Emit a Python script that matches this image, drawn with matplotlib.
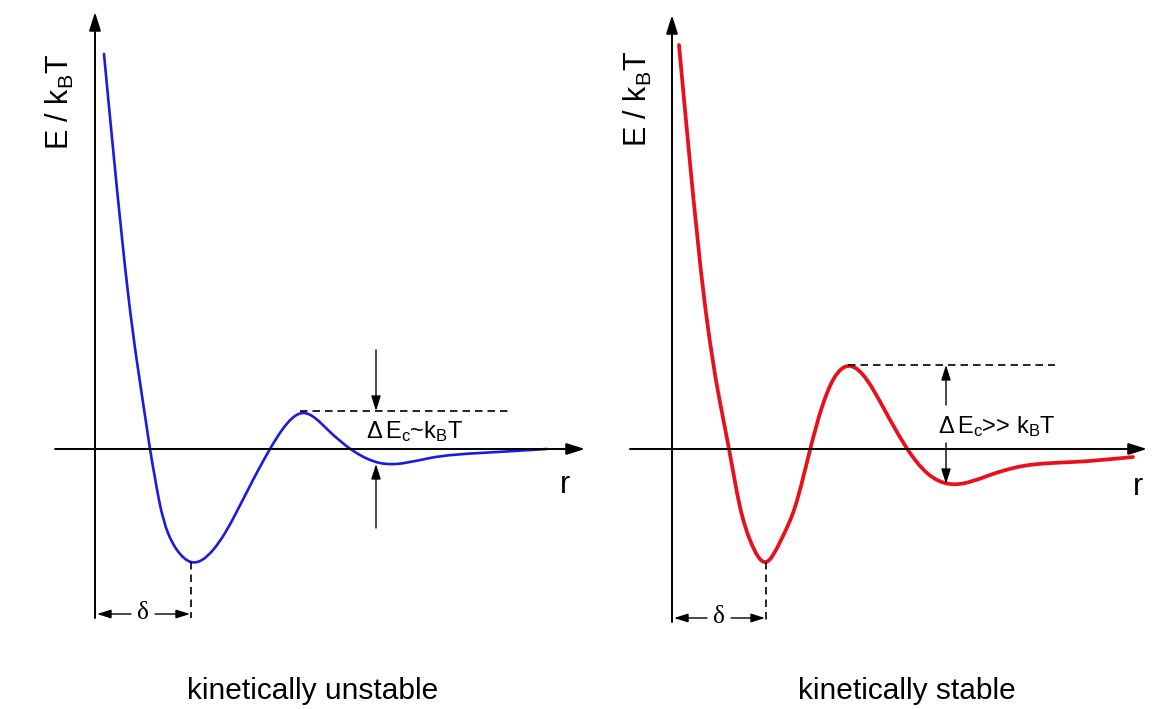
import numpy as np
import matplotlib
matplotlib.use("Agg")
import matplotlib.pyplot as plt
from matplotlib.path import Path
from matplotlib.patches import PathPatch

plt.rcParams['font.family'] = ['Liberation Sans', 'DejaVu Sans']
plt.rcParams.update({'mathtext.fontset': 'custom',
                     'mathtext.rm': 'Liberation Sans',
                     'mathtext.it': 'Liberation Sans:italic'})

# Interaction energy profiles (arbitrary units, origin at axis crossing)
r_unstable = [9, 17, 27, 33, 42, 52, 55, 60, 64, 73, 82, 96, 118, 130, 140,
              158, 175, 187, 208, 233, 257, 285, 335, 385, 452]
E_unstable = [395, 311, 211, 156, 87, 20, 0, -29, -51, -84, -101, -113, -101,
              -84, -66, -31, 0, 19, 36, 19, -1, -14, -9, -4, 0]

r_stable = [7, 18, 32, 47, 57, 68, 78, 94, 109, 123, 138, 150, 161, 178, 195,
            211, 236, 255, 278, 318, 351, 401, 461]
E_stable = [404, 286, 152, 52, 0, -58, -91, -113, -91, -58, -1, 42, 69, 83, 69,
            42, -1, -24, -35, -26, -17, -13, -8]

# Minimum position (delta) and barrier levels
delta_unstable, E_min_unstable = 96, -113
E_barrier_unstable, E_well2_unstable = 38, -15
delta_stable, E_min_stable = 94, -113
E_barrier_stable, E_well2_stable = 84, -35

titles = ["kinetically unstable", "kinetically stable"]
barrier_labels = [r"$\Delta\,\mathrm{E}_{\mathrm{c}}$~$\mathrm{k}_{\mathrm{B}}\mathrm{T}$",
                  r"$\Delta\,\mathrm{E}_{\mathrm{c}}$>> $\mathrm{k}_{\mathrm{B}}\mathrm{T}$"]

W, H = 1165, 709
fig = plt.figure(figsize=(W / 100, H / 100), dpi=100)
fig.patch.set_facecolor("white")

DASH = (0, (4.5, 3))
HEAD = "-|>,head_width=0.22,head_length=0.7"


def panel(x0, y0):
    ax = fig.add_axes([0, 0, 1, 1])
    ax.set_xlim(-x0, W - x0)
    ax.set_ylim(y0 - H, y0)
    ax.axis("off")
    ax.patch.set_alpha(0)
    return ax


def smooth_curve(ax, xs, ys, **kw):
    """Draw a natural cubic spline through the points as Bezier segments."""
    x = np.asarray(xs, float)
    y = np.asarray(ys, float)
    n = len(x)
    h = np.diff(x)
    d = np.diff(y) / h
    # second derivatives (natural end conditions)
    A = np.zeros((n, n))
    b = np.zeros(n)
    A[0, 0] = A[-1, -1] = 1.0
    for i in range(1, n - 1):
        A[i, i - 1] = h[i - 1]
        A[i, i] = 2 * (h[i - 1] + h[i])
        A[i, i + 1] = h[i]
        b[i] = 6 * (d[i] - d[i - 1])
    M = np.linalg.solve(A, b)
    m = np.empty(n)
    m[:-1] = d - h * (2 * M[:-1] + M[1:]) / 6
    m[-1] = d[-1] + h[-1] * (M[-2] + 2 * M[-1]) / 6
    verts = [(x[0], y[0])]
    codes = [Path.MOVETO]
    for i in range(n - 1):
        verts += [(x[i] + h[i] / 3, y[i] + m[i] * h[i] / 3),
                  (x[i + 1] - h[i] / 3, y[i + 1] - m[i + 1] * h[i] / 3),
                  (x[i + 1], y[i + 1])]
        codes += [Path.CURVE4] * 3
    ax.add_patch(PathPatch(Path(verts, codes), fill=False, capstyle="round",
                           joinstyle="round", **kw))


def arrow(ax, start, end, lw=1.0, ms=14):
    ax.annotate("", xy=end, xytext=start,
                arrowprops=dict(arrowstyle=HEAD, color="black", lw=lw,
                                shrinkA=0, shrinkB=0, mutation_scale=ms))


def draw_axes(ax, x_left, x_right, y_bot, y_top, lab_x, lab_y, r_xy):
    arrow(ax, (0, y_bot), (0, y_top), lw=1.4, ms=16)
    arrow(ax, (x_left, 0), (x_right, 0), lw=1.4, ms=16)
    ax.text(lab_x, lab_y, r"E / k$_{\mathrm{B}}$T", rotation=90,
            ha="center", va="center", fontsize=22)
    ax.text(r_xy[0], r_xy[1], "r", ha="center", va="center", fontsize=22)


def delta_marker(ax, d, e_min, y):
    ax.plot([d, d], [e_min, y - 4], ls=DASH, color="black", lw=1.2)
    arrow(ax, (d / 2 - 12, y), (2, y), lw=1.0, ms=12)
    arrow(ax, (d / 2 + 12, y), (d - 1, y), lw=1.0, ms=12)
    ax.text(d / 2, y + 1, "δ", ha="center", va="center", fontsize=18,
            family="Liberation Serif")


# Left panel: kinetically unstable
axL = panel(95, 449)
draw_axes(axL, -40, 490, -169, 437, -35, 347, (470, -36))
smooth_curve(axL, r_unstable, E_unstable, edgecolor="#1a1ae0", lw=1.9)
delta_marker(axL, delta_unstable, E_min_unstable, -165)
axL.plot([205, 415], [E_barrier_unstable] * 2, ls=DASH, color="black", lw=1.2)
arrow(axL, (281, 99), (281, E_barrier_unstable), lw=1.0, ms=13)
arrow(axL, (281, -79), (281, E_well2_unstable), lw=1.0, ms=13)
axL.text(320, 17, barrier_labels[0], ha="center", va="center", fontsize=17)
axL.text(218, -242, titles[0], ha="center", va="center", fontsize=21.5)

# Right panel: kinetically stable
axR = panel(672, 449)
draw_axes(axR, -42, 475, -173, 434, -34, 350, (466, -38))
smooth_curve(axR, r_stable, E_stable, edgecolor="#e8101a", lw=2.7)
delta_marker(axR, delta_stable, E_min_stable, -169)
axR.plot([176, 383], [E_barrier_stable] * 2, ls=DASH, color="black", lw=1.2)
arrow(axR, (274, 44), (274, E_barrier_stable), lw=1.0, ms=13)
arrow(axR, (274, 6), (274, E_well2_stable), lw=1.0, ms=13)
axR.text(325, 22, barrier_labels[1], ha="center", va="center", fontsize=17)
axR.text(235, -242, titles[1], ha="center", va="center", fontsize=21.5)

fig.savefig("out.png", dpi=100, facecolor="white")
